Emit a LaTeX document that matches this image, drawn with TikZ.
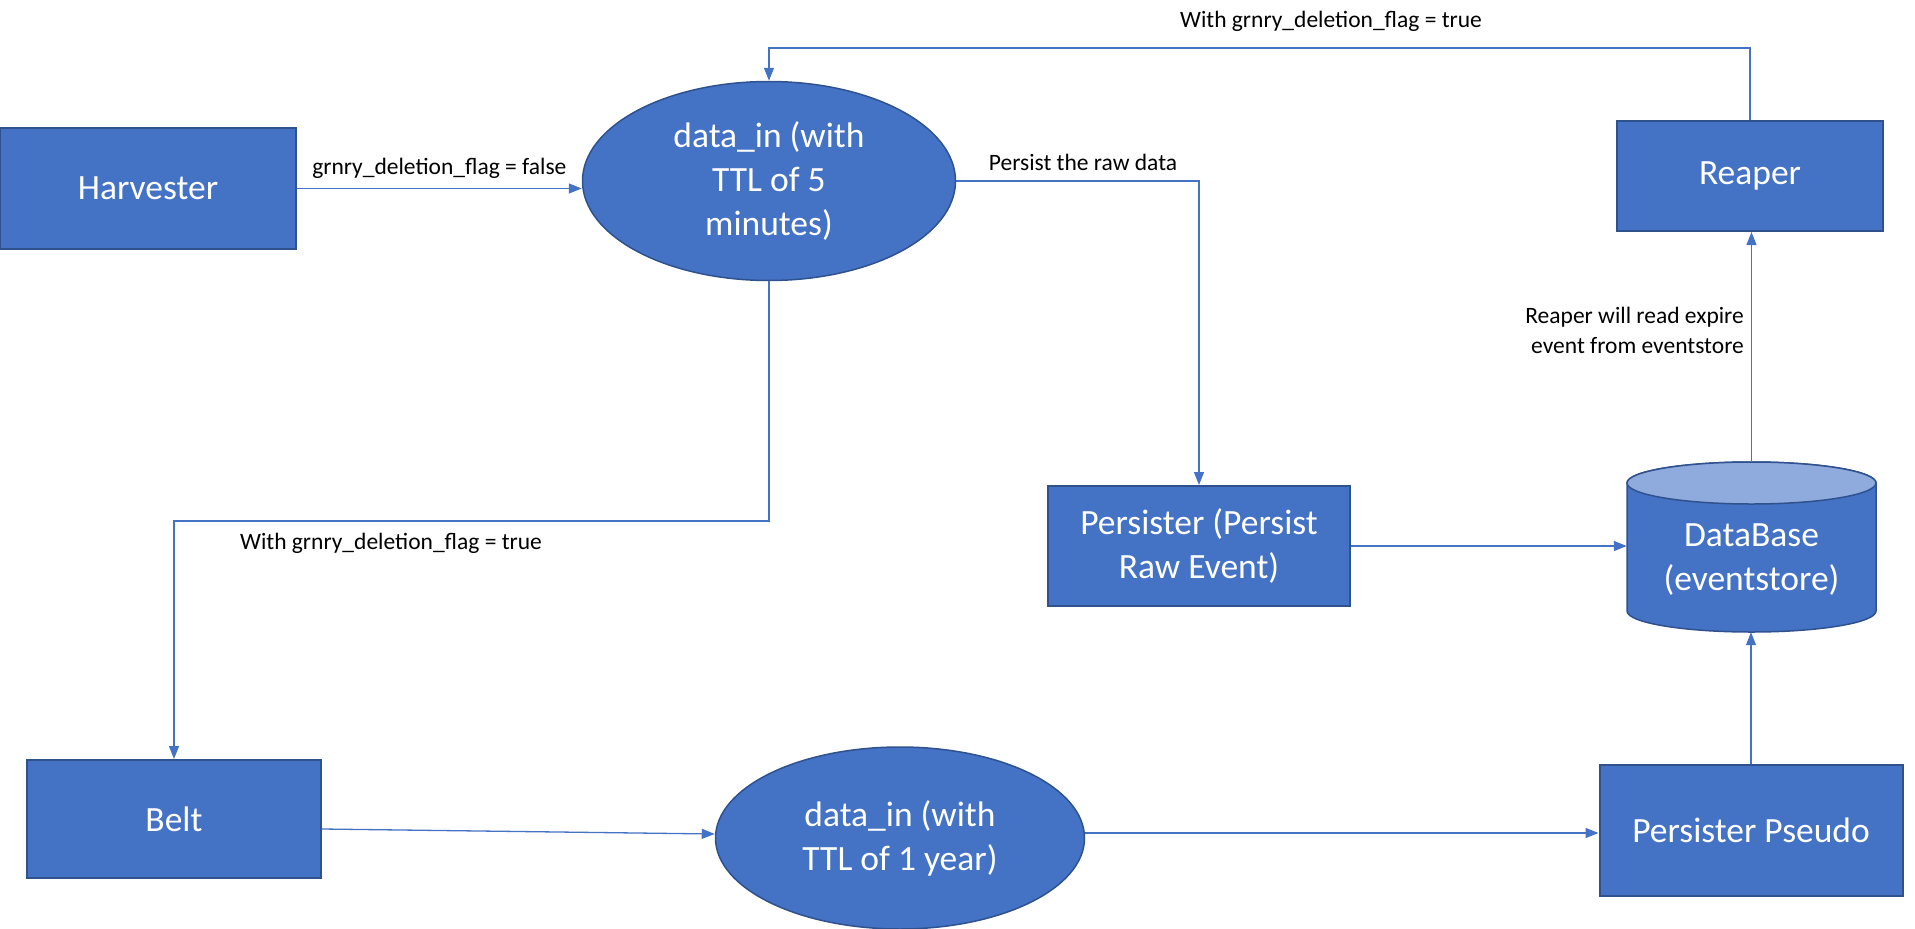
\documentclass[tikz,border=0pt]{standalone}
\usepackage{fontspec}
\setmainfont{Carlito}
\usetikzlibrary{shapes.geometric,arrows.meta}
\definecolor{blu}{HTML}{4472C4}
\definecolor{bord}{HTML}{2F528F}
\definecolor{ltop}{HTML}{8FAADC}
\begin{document}
\begin{tikzpicture}[x=1pt,y=-1pt,
  box/.style={draw=bord, line width=2pt, fill=blu, text=white,
    font=\fontsize{35.5}{44}\selectfont, align=center, inner sep=0pt},
  oval/.style={ellipse, draw=bord, line width=1.5pt, fill=blu, text=white,
    font=\fontsize{35.5}{44}\selectfont, align=center, inner sep=0pt},
  conn/.style={draw=blu, line width=1.3pt, -{Triangle[length=13pt,width=10pt]}},
  lbl/.style={font=\fontsize{23.5}{30}\selectfont, text=black, inner sep=0pt}]
\useasboundingbox (0,0) rectangle (1915,929);

% nodes
\node[box, minimum width=296pt, minimum height=121pt] (harv) at (148,188.5) {Harvester};
\node[oval, minimum width=373pt, minimum height=199pt] (e1) at (769,181) {data\_in (with\\TTL of 5\\minutes)};
\node[box, minimum width=266pt, minimum height=110pt] (reaper) at (1750,176) {Reaper};
\node[box, minimum width=302pt, minimum height=120pt] (pers) at (1199,546) {Persister (Persist\\Raw Event)};
\node[box, minimum width=294pt, minimum height=118pt] (belt) at (174,819) {Belt};
\node[oval, minimum width=369pt, minimum height=182pt] (e2) at (900,838) {data\_in (with\\TTL of 1 year)};
\node[box, minimum width=303pt, minimum height=131pt] (pseudo) at (1751,830) {Persister Pseudo};

% database cylinder
\fill[blu, draw=bord, line width=1.5pt] (1627,483) -- (1627,611)
  arc[start angle=180, end angle=360, x radius=124.5pt, y radius=21pt]
  -- (1876,483)
  arc[start angle=0, end angle=180, x radius=124.5pt, y radius=21pt] -- cycle;
\draw[fill=ltop, draw=bord, line width=1.5pt] (1751.5,483) ellipse[x radius=124.5pt, y radius=21pt];
\node[minimum width=249pt, minimum height=170pt, inner sep=0pt] (db) at (1751.5,547) {};
\node[text=white, font=\fontsize{35.5}{44}\selectfont, align=center, inner sep=0pt] (dbtext) at (1751.5,560) {DataBase\\(eventstore)};

% connectors
\coordinate (tl) at (769,48);
\coordinate (bend) at (769,521);

\draw[conn] (harv.east) -- (harv.east -| e1.west)
  node[lbl, midway, above=9pt] (l1) {grnry\_deletion\_flag = false};
\draw[conn] (reaper.north) |- (tl) -- (e1.north);
\node[lbl] (l2) at (1331,21) {With grnry\_deletion\_flag = true};
\draw[conn] (e1.east) -| (pers.north);
\node[lbl] (l3) at (1083,162) {Persist the raw data};
\draw[conn] (e1.south) -- (bend) -| (belt.north);
\node[lbl] (l4) at (391,543) {With grnry\_deletion\_flag = true};
\draw[conn] (pers.east) -- (pers.east -| db.west);
\draw[conn] (db.north) -- (db.north |- reaper.south);
\node[lbl, anchor=east, align=right] (l5) at (1744,330) {Reaper will read expire\\event from eventstore};
\draw[conn] (pseudo.north) -- (pseudo.north |- db.south);
\draw[conn] ([yshift=-10pt]belt.east) -- ([yshift=4pt]e2.west);
\draw[conn] ([yshift=5pt]e2.east) -- ([yshift=5pt]e2.east -| pseudo.west);
\end{tikzpicture}
\end{document}
